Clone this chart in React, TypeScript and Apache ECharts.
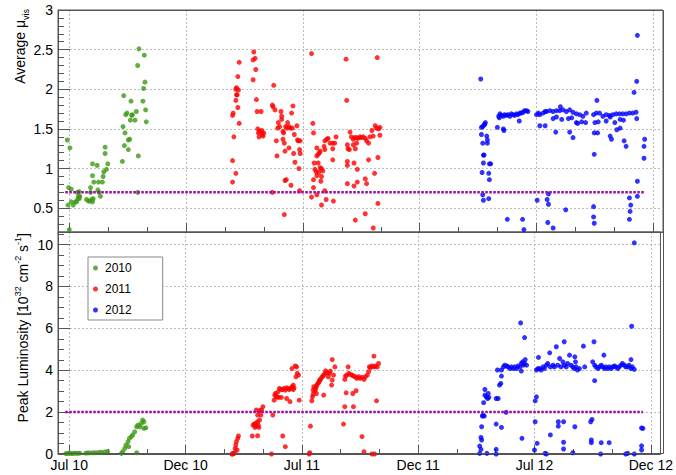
import React, { useEffect, useRef } from 'react';
import * as echarts from 'echarts';

// x values are days counted from the "Jul 10" tick; ticks are equally spaced
const tickLabels = ['Jul 10', 'Dec 10', 'Jul 11', 'Dec 11', 'Jul 12', 'Dec 12'];
const tickStepDays = 176;
const xRangeDays = [-17, 894.6];
const thresholdDays = [-6, 868];
const muThreshold = 0.7;
const lumiThreshold = 2;
const years = ['2010', '2011', '2012'];
const yearColors = ['#3c9a14', '#ff0000', '#0000ff'];

const mu2010: number[][] = [
  [-3, 1.36], [1, 1.26], [0, 0.23], [-1, 0.76], [3, 0.74], [-2, 0.54], [3, 0.58], [6, 0.54], [9, 0.58], [11, 0.58],
  [12, 0.70], [15, 0.71], [14, 0.65], [16, 0.65], [13, 0.62], [15, 0.62], [26, 0.61], [29, 0.59], [31, 0.59], [34, 0.61],
  [36, 0.62], [35, 0.58], [32, 0.76], [32, 0.70], [35, 1.06], [35, 0.91], [37, 0.83], [42, 1.04], [44, 0.83], [43, 0.73],
  [45, 0.70], [47, 0.65], [50, 0.83], [51, 0.90], [52, 0.96], [54, 1.19], [54, 1.27], [56, 0.99], [58, 1.06], [80, 1.09],
  [81, 1.53], [82, 1.92], [84, 1.45], [83, 1.29], [85, 1.68], [87, 1.70], [89, 1.24], [89, 1.36], [91, 1.37], [92, 1.61],
  [93, 1.85], [94, 1.67], [95, 1.68], [99, 1.61], [101, 1.72], [103, 2.30], [104, 1.16], [103, 0.70], [105, 2.51], [111, 1.85],
  [112, 2.01], [113, 2.43], [114, 2.09], [115, 1.74], [116, 1.59],
];

const mu2011: number[][] = [
  [246, 0.83], [246, 1.10], [251, 0.94], [248, 1.40], [246, 1.67], [247, 1.70], [251, 1.86], [252, 1.93], [251, 2.00], [252, 2.02],
  [253, 1.93], [254, 1.77], [255, 1.99], [254, 2.16], [256, 2.34], [256, 1.57],
  [277, 2.12], [278, 2.47], [280, 2.39], [277, 2.37], [281, 2.25], [282, 1.87], [283, 1.72], [289, 1.72], [284, 1.50], [285, 1.45],
  [286, 1.40], [287, 1.47], [290, 1.48], [292, 1.41], [293, 1.45], [291, 1.43],
  [306, 0.70], [306, 1.80], [308, 2.05], [307, 1.78], [310, 1.74], [312, 1.35], [313, 1.16], [315, 1.58], [314, 1.51], [317, 1.53],
  [319, 1.72], [320, 1.66], [320, 1.62], [322, 1.47], [323, 1.45], [324, 1.32], [326, 1.53], [328, 1.51], [329, 1.58], [331, 1.53],
  [333, 1.51], [336, 1.51], [335, 1.70], [337, 1.79], [339, 1.43], [340, 1.08], [343, 1.54], [344, 1.36], [345, 1.35], [348, 1.35],
  [347, 1.24], [348, 1.19], [346, 1.00], [325, 0.85], [327, 0.86], [334, 0.79], [324, 0.42], [331, 1.26], [338, 1.19], [325, 1.22],
  [322, 1.37], [347, 0.72],
  [365, 2.45], [367, 1.57], [368, 1.45], [365, 0.64], [368, 0.76], [373, 0.67], [369, 1.07], [370, 0.99], [373, 1.26], [373, 1.16],
  [375, 1.18], [377, 1.20], [378, 1.22], [375, 1.07], [372, 0.96], [378, 1.01], [376, 0.95], [380, 1.00], [382, 0.97], [380, 0.90],
  [373, 0.91], [368, 0.86], [385, 1.24], [384, 1.28], [385, 1.35], [388, 1.37], [390, 1.38], [393, 1.32], [397, 1.32], [400, 1.32],
  [402, 1.40], [397, 1.11], [397, 1.25], [380, 0.54], [387, 0.61], [398, 0.59], [385, 0.72], [379, 0.84],
  [417, 2.38], [418, 1.86], [419, 1.30], [420, 1.25], [423, 1.46], [425, 1.40], [428, 1.37], [430, 1.39], [433, 1.39], [435, 1.38],
  [438, 1.40], [440, 1.39], [443, 1.40], [446, 1.38], [448, 1.35], [451, 1.32], [453, 1.40], [456, 1.48], [458, 1.41], [461, 1.54],
  [463, 1.51], [466, 1.50], [468, 1.52], [468, 1.42], [422, 1.24], [428, 1.30], [431, 1.25], [433, 1.32], [419, 1.09], [419, 1.04],
  [429, 1.07], [434, 0.99], [419, 0.81], [429, 0.78], [434, 0.83], [446, 0.87], [448, 0.81], [451, 1.11], [460, 0.94], [465, 1.14],
  [465, 0.56], [464, 2.40], [431, 0.35], [446, 0.43], [458, 0.25],
];

const mu2012: number[][] = [
  [620, 2.13], [621, 1.52], [623, 1.53], [625, 1.55], [627, 1.58], [626, 1.56], [621, 1.43], [623, 1.32], [629, 1.41], [630, 1.36],
  [630, 1.32], [624, 1.17], [625, 1.17], [624, 1.07], [622, 0.95], [633, 1.06], [635, 1.06], [632, 0.94], [633, 0.86], [623, 0.67],
  [624, 0.60], [632, 0.62],
  [645, 1.52], [647, 1.66], [649, 1.69], [651, 1.67], [654, 1.66], [656, 1.68], [659, 1.67], [661, 1.68], [664, 1.66], [666, 1.69],
  [669, 1.68], [671, 1.67], [674, 1.69], [676, 1.68], [679, 1.70], [681, 1.70], [684, 1.71], [686, 1.73], [689, 1.73], [691, 1.72],
  [654, 1.50], [655, 1.48], [648, 1.64], [678, 1.60], [660, 0.36], [683, 0.36], [685, 0.23],
  [704, 1.68], [707, 1.70], [709, 1.68], [714, 1.70], [717, 1.72], [719, 1.72], [724, 1.73], [729, 1.72], [734, 1.73], [739, 1.73],
  [744, 1.74], [749, 1.72], [754, 1.74], [759, 1.71], [764, 1.69], [769, 1.68], [774, 1.66], [709, 1.54], [717, 1.54], [729, 1.63],
  [734, 1.65], [742, 1.62], [752, 1.63], [757, 1.64], [764, 1.58], [766, 1.57], [772, 1.59], [778, 1.58], [740, 1.78], [733, 1.46],
  [754, 1.46], [759, 1.39], [705, 0.60], [720, 0.61], [722, 0.68], [722, 0.55], [721, 0.32], [729, 0.25], [748, 0.48],
  [779, 1.70], [790, 1.68], [794, 1.70], [799, 1.70], [804, 1.66], [809, 1.68], [814, 1.67], [819, 1.68], [824, 1.69], [829, 1.69],
  [834, 1.69], [839, 1.69], [844, 1.70], [849, 1.70], [854, 1.71], [795, 1.86], [792, 1.58], [797, 1.59], [791, 1.45], [796, 1.45],
  [791, 1.18], [809, 1.60], [815, 1.65], [822, 1.58], [830, 1.62], [835, 1.61], [815, 1.41], [817, 1.37], [825, 1.49], [830, 1.51],
  [836, 1.35], [839, 1.28], [855, 1.63], [851, 1.96], [855, 2.10], [856, 2.68], [856, 0.84], [856, 0.65], [790, 0.52], [790, 0.39],
  [791, 0.31], [844, 0.63], [846, 0.54], [845, 0.46], [844, 0.36], [867, 1.37], [866, 1.28], [866, 1.13],
];

const lumi2010: number[][] = [
  [-5, 0.02], [-2, 0.03], [1, 0.03], [4, 0.02], [7, 0.03], [10, 0.04], [13, 0.03], [16, 0.04], [25, 0.04], [28, 0.05],
  [31, 0.05], [36, 0.06], [40, 0.06], [45, 0.08], [49, 0.08], [54, 0.10], [58, 0.12],
  [79, 0.03], [81, 0.11], [84, 0.27], [86, 0.43], [89, 0.59], [90, 0.35], [91, 0.75], [94, 0.83], [96, 0.91], [99, 1.06],
  [102, 1.30], [104, 1.38], [107, 1.30], [109, 1.46], [111, 1.62], [113, 1.54], [116, 1.25], [113, 1.22], [102, 0.06],
];

const lumi2011: number[][] = [
  [247, 0.0], [250, 0.06], [251, 0.27], [252, 0.43], [253, 0.59], [255, 0.75], [256, 0.86], [254, 0.19], [249, 0.02], [246, 0.0],
  [277, 0.86], [285, 0.87], [278, 1.38], [280, 1.43], [282, 1.46], [283, 1.33], [286, 1.38], [287, 1.27], [281, 1.27], [285, 1.54],
  [288, 1.62], [290, 1.86], [288, 2.07], [291, 2.10], [293, 2.26], [283, 2.10], [285, 1.86],
  [306, 0.0], [308, 1.86], [310, 2.57], [311, 2.81], [312, 2.89], [313, 2.73], [315, 2.73], [316, 2.97], [318, 3.13], [320, 3.08],
  [323, 3.08], [325, 3.13], [327, 3.05], [329, 3.16], [331, 3.13], [333, 3.08], [335, 3.13], [337, 3.21], [339, 3.08], [340, 3.16],
  [339, 3.29], [343, 3.69], [345, 3.85], [347, 3.77], [344, 4.16], [337, 4.08], [342, 4.20], [348, 2.57], [329, 2.65], [334, 2.50],
  [323, 0.86], [327, 0.35], [321, 2.70], [317, 2.70],
  [363, 0.0], [364, 0.06], [365, 1.33], [367, 2.54], [368, 2.73], [369, 3.05], [370, 3.21], [372, 3.05], [373, 3.13], [374, 3.24],
  [375, 3.32], [377, 3.40], [378, 3.45], [379, 3.53], [380, 3.56], [382, 3.66], [384, 3.72], [385, 3.77], [387, 3.85], [388, 3.97],
  [390, 3.88], [392, 3.69], [394, 3.85], [395, 3.96], [398, 3.53], [397, 3.29], [400, 3.77], [402, 4.16], [398, 4.51], [385, 2.81],
  [374, 2.89], [369, 2.86],
  [417, 3.56], [418, 3.72], [420, 3.77], [423, 3.85], [425, 3.80], [428, 3.77], [430, 3.72], [433, 3.69], [435, 3.61], [438, 3.69],
  [440, 3.61], [443, 3.66], [446, 3.56], [448, 3.69], [451, 3.77], [453, 3.93], [454, 4.16], [456, 4.13], [458, 4.20], [461, 4.16],
  [463, 4.20], [466, 4.16], [468, 4.32], [461, 4.67], [422, 4.16], [417, 2.26], [419, 2.92], [429, 2.89], [434, 3.02], [430, 2.26],
  [415, 1.43], [443, 0.83], [446, 0.11], [458, 0.0], [462, 0.0], [465, 2.54],
];

const lumi2012: number[][] = [
  [621, 0.03], [623, 0.22], [621, 0.38], [624, 0.67], [623, 0.79], [624, 1.30], [625, 1.81], [626, 1.86], [627, 2.45], [629, 2.81],
  [629, 3.08], [631, 2.73], [633, 2.65], [634, 2.89], [635, 2.70], [646, 2.65], [649, 2.65], [651, 3.29], [653, 3.37], [654, 3.72],
  [648, 4.01], [654, 4.01], [657, 4.16], [659, 4.24], [662, 4.20], [664, 4.16], [667, 4.08], [669, 4.16], [672, 4.08], [674, 4.16],
  [677, 4.08], [679, 4.20], [682, 4.16], [684, 4.32], [686, 4.40], [687, 4.24], [689, 4.32], [690, 4.51], [692, 4.24], [684, 3.96],
  [689, 5.56], [683, 6.26], [685, 0.75], [661, 1.99], [646, 1.43], [654, 1.27], [632, 0.03], [646, 0.22], [646, 0.0], [628, 1.81],
  [707, 4.01], [709, 4.08], [710, 4.61], [712, 4.08], [714, 4.01], [717, 4.16], [719, 4.08], [722, 4.24], [724, 4.32], [727, 4.83],
  [728, 4.16], [732, 4.24], [734, 4.16], [737, 5.12], [739, 4.24], [742, 4.56], [744, 4.16], [747, 4.40], [749, 5.36], [749, 4.24],
  [752, 4.16], [754, 4.32], [757, 4.72], [759, 4.24], [762, 4.16], [764, 4.08], [765, 4.64], [766, 4.40], [767, 4.16], [769, 4.01],
  [772, 4.08], [778, 5.15], [780, 4.16], [792, 4.40], [794, 5.36], [795, 4.24], [797, 4.16], [800, 4.08], [802, 4.16], [805, 4.24],
  [807, 4.16], [809, 4.72], [810, 4.08], [812, 4.16], [815, 4.08], [817, 4.16], [820, 4.08], [822, 4.16], [825, 4.20], [827, 4.16],
  [830, 4.08], [832, 4.16], [835, 4.24], [837, 4.32], [840, 4.24], [842, 4.16], [845, 4.16], [847, 4.24], [850, 4.51], [850, 4.08],
  [852, 4.16], [855, 4.04], [795, 3.50], [707, 2.73], [705, 2.54], [705, 1.54], [704, 0.19], [708, 0.51], [720, 0.03], [722, 0.0],
  [728, 0.91], [740, 1.54], [740, 1.33], [748, 1.54], [748, 0.56], [748, 0.24], [765, 1.30], [762, 0.06], [789, 1.54], [791, 1.65],
  [790, 0.67], [790, 0.54], [805, 0.54], [817, 0.54], [804, 0.0], [842, 0.0], [845, 0.03], [855, 0.0], [866, 1.24], [866, 0.39],
  [866, 0.19], [851, 6.10], [855, 10.08], [868, 1.22],
];

const muByYear = [mu2010, mu2011, mu2012];
const lumiByYear = [lumi2010, lumi2011, lumi2012];

const FONT = '"Liberation Sans", Arial, Helvetica, sans-serif';
const frameColor = '#555555';
const gridColor = '#bdbdbd';
const thresholdColor = '#9a0aa0';

export default function App() {
  const ref = useRef<HTMLDivElement>(null);

  useEffect(() => {
    if (!ref.current) return;
    const chart = echarts.init(ref.current, undefined, { renderer: 'svg' });

    const splitLineStyle = {
      show: true,
      showMinLine: false,
      showMaxLine: false,
      lineStyle: { color: gridColor, type: [2, 2], width: 1 },
    };

    const xBase = (gridIndex: number, showLabels: boolean) => ({
      type: 'value',
      gridIndex,
      min: xRangeDays[0],
      max: xRangeDays[1],
      minInterval: tickStepDays,
      maxInterval: tickStepDays,
      axisLine: { show: true, onZero: false, lineStyle: { color: frameColor, width: 1 } },
      axisTick: { show: true, inside: true, length: 9, lineStyle: { color: frameColor } },
      minorTick: { show: true, splitNumber: 3, length: 5, lineStyle: { color: frameColor } },
      splitLine: splitLineStyle,
      axisLabel: {
        show: showLabels,
        margin: 4,
        fontSize: 14,
        fontFamily: FONT,
        color: '#000',
        formatter: (v: number) => {
          const k = Math.round(v / tickStepDays);
          return Math.abs(v - k * tickStepDays) < 0.01 && tickLabels[k] ? tickLabels[k] : '';
        },
      },
    });

    const yBase = (gridIndex: number, min: number, max: number, step: number, minorSplit: number) => ({
      type: 'value',
      gridIndex,
      min,
      max,
      minInterval: step,
      maxInterval: step,
      axisLine: { show: true, onZero: false, lineStyle: { color: frameColor, width: 1 } },
      axisTick: { show: true, inside: true, length: 12, lineStyle: { color: frameColor } },
      minorTick: { show: true, splitNumber: minorSplit, length: 6, lineStyle: { color: frameColor } },
      splitLine: splitLineStyle,
      axisLabel: {
        margin: 5,
        fontSize: 14,
        fontFamily: FONT,
        color: '#000',
        formatter: (v: number) => {
          const k = Math.round(v / step);
          return Math.abs(v - k * step) < 1e-6 ? String(Math.round(v * 100) / 100) : '';
        },
      },
    });

    const scatterSeries: any[] = [];
    years.forEach((yr, i) => {
      scatterSeries.push({
        type: 'scatter', name: yr, xAxisIndex: 0, yAxisIndex: 0,
        data: muByYear[i], symbol: 'circle', symbolSize: 5,
        itemStyle: { color: yearColors[i] }, z: 3,
      });
      scatterSeries.push({
        type: 'scatter', name: yr, xAxisIndex: 1, yAxisIndex: 1,
        data: lumiByYear[i], symbol: 'circle', symbolSize: 5,
        itemStyle: { color: yearColors[i] }, z: 3,
      });
    });

    const thresholdLine = (axisIndex: number, value: number) => ({
      type: 'line', name: 'threshold' + axisIndex, xAxisIndex: axisIndex, yAxisIndex: axisIndex,
      data: [[thresholdDays[0], value], [thresholdDays[1], value]],
      symbol: 'none', silent: true, z: 4,
      lineStyle: { color: thresholdColor, width: 2.5, type: [2.5, 1.5] },
    });

    chart.setOption({
      animation: false,
      backgroundColor: '#ffffff',
      textStyle: { fontFamily: FONT },
      grid: [
        { left: 58, top: 10, width: 605, height: 222, show: true, borderColor: frameColor, borderWidth: 1, backgroundColor: 'transparent' },
        { left: 58, top: 232, width: 605, height: 222, show: true, borderColor: frameColor, borderWidth: 1, backgroundColor: 'transparent' },
      ],
      xAxis: [xBase(0, false), xBase(1, true)],
      yAxis: [yBase(0, 0.2, 3, 0.5, 5), yBase(1, 0, 10.6, 2, 4)],
      legend: {
        show: true,
        data: years,
        orient: 'vertical',
        left: 88,
        top: 257,
        icon: 'circle',
        itemWidth: 9,
        itemHeight: 5,
        itemGap: 9,
        padding: [5, 31, 4, 5],
        borderColor: '#888888',
        borderWidth: 1,
        backgroundColor: '#ffffff',
        textStyle: { fontSize: 12, fontFamily: FONT, color: '#000' },
      },
      graphic: [
        {
          type: 'rect',
          z: 100,
          silent: true,
          shape: { x: 58.5, y: 10.5, width: 605, height: 443 },
          style: { fill: 'none', stroke: frameColor, lineWidth: 1 },
        },
        {
          type: 'text',
          x: 20,
          y: 9,
          rotation: Math.PI / 2,
          style: {
            text: '{m|Average μ}{s|vis}',
            align: 'right',
            verticalAlign: 'middle',
            fill: '#000',
            rich: {
              m: { fontSize: 14, fontFamily: FONT, lineHeight: 20, verticalAlign: 'middle', fill: '#000' },
              s: { fontSize: 9, fontFamily: FONT, lineHeight: 20, verticalAlign: 'bottom', fill: '#000' },
            },
          },
        },
        {
          type: 'text',
          x: 23,
          y: 233,
          rotation: Math.PI / 2,
          style: {
            text: '{m|Peak Luminosity [10}{p|32}{m| cm}{p|-2}{m| s}{p|-1}{m|]}',
            align: 'right',
            verticalAlign: 'middle',
            fill: '#000',
            rich: {
              m: { fontSize: 14, fontFamily: FONT, lineHeight: 20, verticalAlign: 'middle', fill: '#000' },
              p: { fontSize: 9, fontFamily: FONT, lineHeight: 20, verticalAlign: 'top', fill: '#000' },
            },
          },
        },
      ],
      series: [...scatterSeries, thresholdLine(0, muThreshold), thresholdLine(1, lumiThreshold)],
    });

    return () => chart.dispose();
  }, []);

  return (
    <div
      ref={ref}
      style={{ position: 'fixed', left: 0, top: 0, width: 676, height: 475, background: '#fff' }}
    />
  );
}
